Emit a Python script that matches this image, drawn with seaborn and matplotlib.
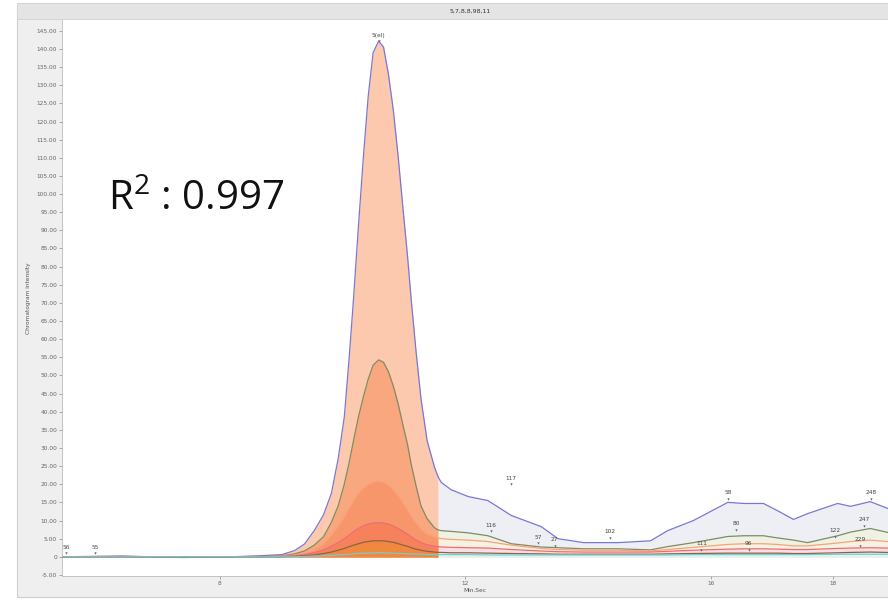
import numpy as np
import pandas as pd
import matplotlib
matplotlib.use("Agg")
import matplotlib.pyplot as plt
import seaborn as sns
from matplotlib.patches import Rectangle

# Retention time (min) shared by all traces
time_min = [5.43, 6.41, 7.38, 8.20, 8.68, 9.01, 9.22, 9.38, 9.54, 9.69,
            9.82, 9.93, 10.03, 10.11, 10.18, 10.26, 10.34, 10.42, 10.50, 10.59,
            10.67, 10.75, 10.83, 10.91, 10.99, 11.06, 11.12, 11.20, 11.28, 11.38,
            11.50, 11.56, 11.61, 11.77, 12.05, 12.37, 12.75, 13.24, 13.51, 13.93,
            14.49, 15.02, 15.30, 15.72, 16.28, 16.54, 16.86, 17.09, 17.35, 17.58,
            18.07, 18.28, 18.60, 18.89]

trace_a = [0.0, 0.2, -0.2, 0.0, 0.3, 0.6, 1.7, 3.5, 7.2, 11.5,
           17.5, 27.0, 38.5, 55.0, 71.0, 91.0, 110.0, 127.0, 139.0, 142.2,
           140.5, 133.0, 123.0, 110.0, 95.4, 83.0, 71.0, 56.5, 43.6, 32.0,
           24.7, 22.0, 20.5, 18.5, 16.6, 15.5, 11.4, 8.3, 5.0, 3.9,
           3.9, 4.4, 7.2, 10.0, 15.0, 14.7, 14.7, 12.7, 10.3, 11.9,
           14.7, 13.9, 15.2, 13.3]

trace_b = [0.0, 0.1, -0.1, 0.0, 0.1, 0.3, 0.8, 1.6, 3.2, 5.5,
           9.5, 14.0, 20.0, 26.0, 32.0, 38.5, 44.0, 49.0, 52.8, 54.3,
           53.6, 51.0, 47.0, 42.0, 36.0, 31.0, 25.5, 19.5, 14.0, 10.5,
           8.0, 7.4, 7.2, 7.0, 6.6, 5.8, 3.6, 2.7, 2.5, 2.2,
           2.2, 1.9, 2.8, 3.9, 5.6, 5.8, 5.8, 5.2, 4.6, 3.9,
           5.8, 6.8, 7.8, 6.7]

trace_c = [0.0, 0.0, 0.0, 0.0, 0.0, 0.2, 0.5, 1.0, 2.0, 3.5,
           6.0, 8.5, 11.0, 13.5, 15.5, 17.5, 19.0, 20.0, 20.6, 20.8,
           20.5, 19.8, 18.5, 16.8, 14.8, 13.0, 11.2, 9.3, 7.6, 6.2,
           5.5, 5.2, 5.0, 4.8, 4.6, 4.2, 3.2, 2.3, 2.0, 1.8,
           1.8, 1.6, 2.0, 2.6, 3.4, 3.6, 3.6, 3.4, 3.0, 3.0,
           3.8, 4.2, 4.6, 4.2]

trace_d = [0.0, 0.0, 0.0, 0.0, 0.0, 0.1, 0.3, 0.6, 1.1, 1.9,
           2.9, 3.9, 5.0, 6.0, 6.9, 7.8, 8.5, 9.0, 9.3, 9.4,
           9.3, 9.0, 8.5, 7.8, 7.0, 6.2, 5.5, 4.6, 3.9, 3.3,
           2.9, 2.8, 2.7, 2.6, 2.5, 2.4, 2.0, 1.6, 1.4, 1.3,
           1.3, 1.3, 1.5, 1.8, 2.1, 2.2, 2.2, 2.1, 2.0, 2.0,
           2.3, 2.4, 2.5, 2.4]

trace_e = [0.0, 0.0, 0.0, 0.0, 0.0, 0.0, 0.1, 0.3, 0.5, 0.9,
           1.3, 1.8, 2.3, 2.8, 3.2, 3.6, 4.0, 4.2, 4.4, 4.4,
           4.4, 4.2, 4.0, 3.6, 3.2, 2.9, 2.5, 2.1, 1.8, 1.5,
           1.3, 1.2, 1.2, 1.1, 1.1, 1.0, 0.9, 0.8, 0.7, 0.7,
           0.7, 0.7, 0.8, 0.9, 1.0, 1.0, 1.0, 1.0, 0.9, 0.9,
           1.1, 1.2, 1.3, 1.2]

trace_f = [0.0, 0.0, 0.0, 0.0, 0.0, 0.0, 0.0, 0.1, 0.2, 0.3,
           0.4, 0.5, 0.6, 0.7, 0.8, 0.9, 1.0, 1.0, 1.1, 1.1,
           1.1, 1.0, 1.0, 0.9, 0.9, 0.8, 0.8, 0.7, 0.7, 0.6,
           0.6, 0.6, 0.6, 0.6, 0.6, 0.5, 0.5, 0.5, 0.5, 0.5,
           0.5, 0.5, 0.5, 0.6, 0.6, 0.6, 0.6, 0.6, 0.6, 0.6,
           0.7, 0.7, 0.7, 0.7]

trace_names = ["A", "B", "C", "D", "E", "F"]
trace_values = [trace_a, trace_b, trace_c, trace_d, trace_e, trace_f]

# Labelled peaks: id, retention time, signal at marker
peak_ids = ["5(el)", "56", "55", "117", "116", "57", "27", "102", "58",
            "80", "111", "96", "122", "247", "248", "229"]
peak_times = [10.59, 5.50, 5.97, 12.75, 12.42, 13.19, 13.46, 14.36, 16.28,
              16.42, 15.85, 16.62, 18.03, 18.50, 18.62, 18.44]
peak_heights = [142.2, 1.0, 1.0, 20.0, 7.0, 3.8, 3.0, 5.2, 16.0,
                7.5, 2.0, 2.0, 5.5, 8.5, 16.0, 3.0]

x_tick_values = [8, 12, 16, 18]
y_tick_values = list(range(-5, 150, 5))

title_text = "5,7,8,8,98,11"
x_label = "Min.Sec"
y_label = "Chromatogram intensity"
r2_text = r"R$^{\mathsf{2}}$ : 0.997"

sns.set_theme(style="white")
plt.rcParams["font.family"] = ["DejaVu Sans"]
plt.rcParams["mathtext.fontset"] = "custom"
plt.rcParams["mathtext.sf"] = "Open Sans"
plt.rcParams["mathtext.rm"] = "Open Sans"

df = pd.DataFrame({
    "time": np.tile(time_min, len(trace_names)),
    "signal": np.concatenate(trace_values),
    "trace": np.repeat(trace_names, len(time_min)),
})

line_colors = {"A": "#7a76d6", "B": "#7f8c60", "C": "#f9a278",
               "D": "#ee6a78", "E": "#8a6446", "F": "#6fcfd0"}
peak_fill = ["#fcc8ae", "#f9a77e", "#f8966b", "#f6825c", "#f2873f", "#f2873f"]
tail_fill = ["#eeeff5", "#eef2e4", "#f5f2e2", "#f8dfe2", "#e6f2f2", "#e6f2f2"]

fig = plt.figure(figsize=(8.88, 6.09), dpi=100)
fig.patch.set_facecolor("#ffffff")

# Window frame and title bar, drawn on a background layer
bg = fig.add_axes([0, 0, 1, 1], zorder=-1)
bg.set_xlim(0, 888)
bg.set_ylim(609, 0)
bg.axis("off")
bg.add_patch(Rectangle((17, 3), 880, 594, facecolor="#efefef",
                       edgecolor="#cfcfcf", linewidth=0.8))
bg.add_patch(Rectangle((17, 3), 880, 16, facecolor="#e4e4e4",
                       edgecolor="#d2d2d2", linewidth=0.6))
bg.text(470, 11, title_text, ha="center", va="center",
        fontsize=4.5, color="#333333")

ax = fig.add_axes([62 / 888, 1 - 576 / 609, 826 / 888, 556 / 609], zorder=1)
ax.set_facecolor("white")

t = np.asarray(time_min)
cut = 11.56
in_peak = t <= cut
after_peak = t >= cut
for i, name in enumerate(trace_names):
    vals = np.asarray(trace_values[i])
    ax.fill_between(t, 0, vals, where=in_peak, color=peak_fill[i],
                    linewidth=0, zorder=1 + i * 0.1)
    ax.fill_between(t, 0, vals, where=after_peak, color=tail_fill[i],
                    linewidth=0, zorder=1 + i * 0.1)

sns.lineplot(data=df, x="time", y="signal", hue="trace", palette=line_colors,
             estimator=None, sort=False, linewidth=0.9, legend=False, ax=ax,
             zorder=3)

# Peak markers with their identifiers
ax.scatter(peak_times, peak_heights, marker="v", s=3, color="#666666",
           zorder=4, linewidths=0)
for pid, pt, ph in zip(peak_ids, peak_times, peak_heights):
    ax.annotate(pid, (pt, ph), xytext=(0, 2.5), textcoords="offset points",
                ha="center", va="bottom", fontsize=4.2, color="#444444",
                zorder=5)

ax.text(0.056, 0.658, r2_text, transform=ax.transAxes, fontsize=29,
        family="Open Sans", color="#111111", va="baseline", ha="left")

ax.set_xlim(5.43, 18.89)
ax.set_ylim(-5.3, 148)
ax.set_xticks(x_tick_values)
ax.set_xticklabels([str(v) for v in x_tick_values])
ax.set_yticks(y_tick_values)
ax.set_yticklabels(["0" if v == 0 else f"{v:.2f}" for v in y_tick_values])
ax.tick_params(axis="both", labelsize=4.2, labelcolor="#666666",
               colors="#888888", length=2, width=0.5, pad=1.5)
ax.tick_params(axis="y", left=True)
ax.tick_params(axis="x", bottom=True)
ax.set_xlabel(x_label, fontsize=4.2, color="#555555", labelpad=1.5)
ax.set_ylabel(y_label, fontsize=4.2, color="#555555", labelpad=4)
for side in ["top", "right"]:
    ax.spines[side].set_visible(False)
for side in ["left", "bottom"]:
    ax.spines[side].set_color("#bbbbbb")
    ax.spines[side].set_linewidth(0.6)

fig.savefig("out.png", dpi=100)
